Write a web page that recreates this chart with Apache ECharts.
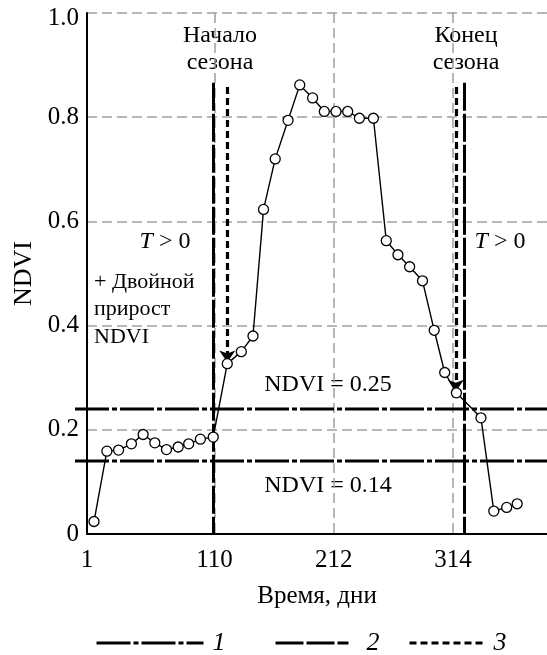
<!DOCTYPE html>
<html>
<head>
<meta charset="utf-8">
<script src="https://cdn.jsdelivr.net/npm/echarts@6/dist/echarts.min.js"></script>
<style>
  html, body { margin: 0; padding: 0; background: #fff; }
  #chart { width: 547px; height: 655px; }
</style>
</head>
<body>
<div id="chart"></div>
<script>
// NDVI composites (day of year -> NDVI)
const days = [7, 18, 28, 39, 49, 59, 69, 79, 88, 98, 109, 121, 133, 143, 152, 162, 173, 183, 194, 204, 214, 224, 234, 246, 257, 267, 277, 288, 298, 307, 317, 338, 349, 360, 369];
const ndvi = [0.024, 0.159, 0.161, 0.173, 0.191, 0.175, 0.162, 0.167, 0.173, 0.182, 0.186, 0.327, 0.350, 0.380, 0.623, 0.720, 0.794, 0.862, 0.837, 0.811, 0.811, 0.811, 0.798, 0.798, 0.563, 0.536, 0.513, 0.486, 0.391, 0.310, 0.271, 0.223, 0.044, 0.051, 0.058];
const dayTicks = [1, 110, 212, 314];

// 1: NDVI thresholds (drawn level), 2: T > 0 + double growth, 3: threshold crossing
const thresholdLevels = [0.24, 0.14];
const seasonDays2 = [109, 324];
const seasonTop2 = 0.866;
const seasonDays3 = [121, 316.5];
const seasonTop3 = 0.858;
const seasonArrowTo3 = [0.329, 0.273];

const FONT = '"Liberation Serif", "Times New Roman", serif';
const X_MIN = 1, X_MAX = 394.5;

const style1 = { color: '#000', width: 3, type: [34, 3, 5, 3] };
const style2 = { color: '#000', width: 3, type: [28, 3] };
const style3 = { color: '#000', width: 3.2, type: [7, 4] };

const chart = echarts.init(document.getElementById('chart'), null, { renderer: 'canvas' });

const series = [];

// threshold lines live on a second, slightly wider grid (they start left of the y axis)
thresholdLevels.forEach(v => {
  series.push({
    name: '1',
    type: 'line',
    xAxisIndex: 1,
    yAxisIndex: 1,
    silent: true,
    symbol: 'none',
    z: 3,
    lineStyle: style1,
    data: [[0, v], [1, v]]
  });
});

series.push({
  name: '2',
  type: 'line',
  data: [],
  symbol: 'none',
  lineStyle: style2,
  z: 3,
  markLine: {
    silent: true,
    symbol: 'none',
    label: { show: false },
    lineStyle: style2,
    emphasis: { disabled: true },
    data: seasonDays2.map(d => [{ coord: [d, seasonTop2] }, { coord: [d, 0] }])
  }
});

series.push({
  name: '3',
  type: 'line',
  data: [],
  symbol: 'none',
  lineStyle: style3,
  z: 3,
  markLine: {
    silent: true,
    symbol: ['none', 'arrow'],
    symbolSize: 12,
    label: { show: false },
    lineStyle: style3,
    emphasis: { disabled: true },
    data: seasonDays3.map((d, i) => [{ coord: [d, seasonTop3] }, { coord: [d, seasonArrowTo3[i]] }])
  }
});

series.push({
  name: 'NDVI',
  type: 'line',
  z: 10,
  silent: true,
  symbol: 'circle',
  symbolSize: 10,
  itemStyle: { color: '#fff', borderColor: '#000', borderWidth: 1.3 },
  lineStyle: { color: '#000', width: 1.4 },
  data: days.map((d, i) => [d, ndvi[i]])
});

const legendText = { fontFamily: FONT, fontSize: 26, fontStyle: 'italic', color: '#000' };
const legendBase = {
  orient: 'horizontal',
  top: 630,
  padding: 0,
  itemHeight: 14,
  selectedMode: false,
  itemStyle: { color: 'transparent', borderWidth: 0, opacity: 0 },
  lineStyle: { width: 3 }
};

const textStyle = { fontFamily: FONT, fontSize: 24, fill: '#000' };
const gridLine = { show: true, lineStyle: { color: '#a0a0a0', width: 1.5, type: [10, 5] } };

chart.setOption({
  animation: false,
  backgroundColor: '#fff',
  grid: [
    { left: 87, right: 0, top: 13, bottom: 121, containLabel: false },
    { left: 75, right: 0, top: 13, bottom: 121, containLabel: false }
  ],
  xAxis: [{
    type: 'value',
    min: X_MIN,
    max: X_MAX,
    name: 'Время, дни',
    nameLocation: 'middle',
    nameGap: 50,
    nameTextStyle: { fontFamily: FONT, fontSize: 25, color: '#000' },
    axisLine: { show: true, lineStyle: { color: '#000', width: 2 } },
    axisTick: { show: false, customValues: dayTicks },
    axisLabel: { customValues: dayTicks, margin: 14, fontFamily: FONT, fontSize: 25, color: '#000' },
    splitLine: gridLine
  }, {
    type: 'value', gridIndex: 1, min: 0, max: 1, show: false
  }],
  yAxis: [{
    type: 'value',
    min: 0,
    max: 1,
    interval: 0.2,
    name: 'NDVI',
    nameLocation: 'middle',
    nameGap: 45,
    nameTextStyle: { fontFamily: FONT, fontSize: 26, color: '#000' },
    axisLine: { show: true, lineStyle: { color: '#000', width: 2 } },
    axisTick: { show: false },
    axisLabel: {
      margin: 8, fontFamily: FONT, fontSize: 25, color: '#000',
      formatter: v => (v === 0 ? '0' : v === 1 ? '{t|1.0}' : v.toFixed(1)),
      rich: { t: { fontFamily: FONT, fontSize: 25, color: '#000', padding: [10, 0, 0, 0] } }
    },
    splitLine: gridLine
  }, {
    type: 'value', gridIndex: 1, min: 0, max: 1, show: false
  }],
  legend: [
    Object.assign({}, legendBase, { data: ['1'], left: 95, itemWidth: 107, textStyle: Object.assign({}, legendText, { padding: [0, 0, 0, 4] }) }),
    Object.assign({}, legendBase, { data: ['2'], left: 274, itemWidth: 73, textStyle: Object.assign({}, legendText, { padding: [0, 0, 0, 13] }) }),
    Object.assign({}, legendBase, { data: ['3'], left: 408, itemWidth: 77, textStyle: Object.assign({}, legendText, { padding: [0, 0, 0, 2] }) })
  ],
  graphic: [
    { type: 'text', x: 220, y: 22, silent: true, style: Object.assign({ text: 'Начало\nсезона', align: 'center', verticalAlign: 'top', lineHeight: 27 }, textStyle) },
    { type: 'text', x: 466, y: 22, silent: true, style: Object.assign({ text: 'Конец\nсезона', align: 'center', verticalAlign: 'top', lineHeight: 27 }, textStyle) },
    { type: 'text', x: 165, y: 242, silent: true, style: Object.assign({ text: '{i|T} > 0', align: 'center', verticalAlign: 'middle', rich: { i: { fontStyle: 'italic', fontFamily: FONT, fontSize: 24 } } }, textStyle) },
    { type: 'text', x: 500, y: 242, silent: true, style: Object.assign({ text: '{i|T} > 0', align: 'center', verticalAlign: 'middle', rich: { i: { fontStyle: 'italic', fontFamily: FONT, fontSize: 24 } } }, textStyle) },
    { type: 'text', x: 94, y: 268, silent: true, style: { text: '+ Двойной\nприрост\nNDVI', fontFamily: FONT, fontSize: 22, lineHeight: 27.5, fill: '#000', align: 'left', verticalAlign: 'top' } },
    { type: 'text', x: 328, y: 385, silent: true, style: Object.assign({ text: 'NDVI = 0.25', align: 'center', verticalAlign: 'middle' }, textStyle) },
    { type: 'text', x: 328, y: 486, silent: true, style: Object.assign({ text: 'NDVI = 0.14', align: 'center', verticalAlign: 'middle' }, textStyle) }
  ],
  series: series
});
</script>
</body>
</html>
